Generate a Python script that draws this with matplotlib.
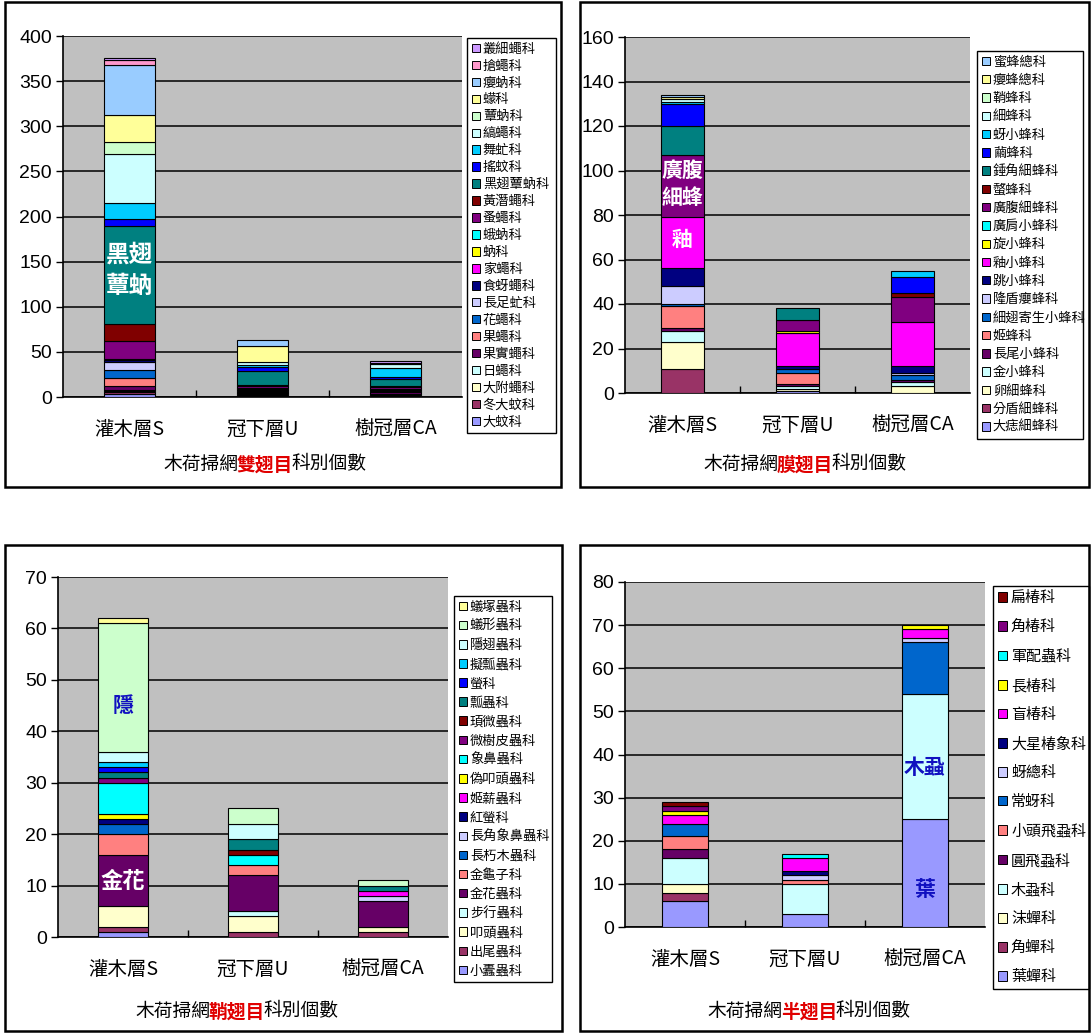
import matplotlib.pyplot as plt
import numpy as np
from matplotlib.patches import Patch, Rectangle

plt.rcParams['font.family'] = ['Noto Sans CJK TC', 'DejaVu Sans']

layers = ['灌木層S', '冠下層U', '樹冠層CA']

# Excel 2003 default series colours, first series at the bottom of the stack
excel_colors = ['#9999FF', '#993366', '#FFFFCC', '#CCFFFF', '#660066', '#FF8080',
                '#0066CC', '#CCCCFF', '#000080', '#FF00FF', '#FFFF00', '#00FFFF',
                '#800080', '#800000', '#008080', '#0000FF', '#00CCFF', '#CCFFFF',
                '#CCFFCC', '#FFFF99', '#99CCFF', '#FF99CC', '#CC99FF', '#FFCC99']

# --- 雙翅目 (bottom -> top)
diptera_families = ['大蚊科', '冬大蚊科', '大附蠅科', '日蠅科', '果實蠅科', '果蠅科',
                    '花蠅科', '長足虻科', '食蚜蠅科', '家蠅科', '蚋科', '蛾蚋科',
                    '蚤蠅科', '黃潛蠅科', '黑翅蕈蚋科', '搖蚊科', '舞虻科', '縞蠅科',
                    '蕈蚋科', '蠓科', '癭蚋科', '搶蠅科', '叢細蠅科']
diptera_S = [3, 3, 1, 1, 4, 9, 9, 9, 2, 1, 0, 0, 20, 19, 109, 7, 18, 54, 14, 30, 55, 5, 3]
diptera_U = [1, 1, 1, 1, 2, 0, 1, 1, 1, 1, 0, 0, 2, 1, 16, 4, 3, 3, 0, 18, 6, 0, 0]
diptera_CA = [0, 1, 1, 1, 3, 0, 1, 1, 1, 0, 0, 0, 2, 1, 8, 2, 10, 5, 0, 0, 0, 1, 2]

# --- 膜翅目
hymeno_families = ['大痣細蜂科', '分盾細蜂科', '卵細蜂科', '金小蜂科', '長尾小蜂科', '姬蜂科',
                   '細翅寄生小蜂科', '隆盾癭蜂科', '跳小蜂科', '釉小蜂科', '旋小蜂科',
                   '廣肩小蜂科', '廣腹細蜂科', '螫蜂科', '錘角細蜂科', '繭蜂科', '蚜小蜂科',
                   '細蜂科', '鞘蜂科', '癭蜂總科', '蜜蜂總科']
hymeno_S = [0, 11, 12, 5, 1, 10, 1, 8, 8, 23, 0, 0, 28, 0, 13, 10, 1, 1, 0, 1, 1]
hymeno_U = [1, 0, 1, 1, 1, 5, 2, 0, 1, 15, 1, 0, 5, 0, 5, 0, 0, 0, 0, 0, 0]
hymeno_CA = [0, 0, 3, 2, 1, 0, 2, 1, 3, 20, 0, 0, 11, 2, 0, 7, 3, 0, 0, 0, 0]

# --- 鞘翅目
coleo_families = ['小蠹蟲科', '出尾蟲科', '叩頭蟲科', '步行蟲科', '金花蟲科', '金龜子科',
                  '長朽木蟲科', '長角象鼻蟲科', '紅螢科', '姬薪蟲科', '偽叩頭蟲科',
                  '象鼻蟲科', '微樹皮蟲科', '頊微蟲科', '瓢蟲科', '螢科', '擬瓢蟲科',
                  '隱翅蟲科', '蟻形蟲科', '蟻塚蟲科']
coleo_S = [1, 1, 4, 0, 10, 4, 2, 0, 1, 0, 1, 6, 1, 0, 1, 1, 1, 2, 25, 1]
coleo_U = [0, 1, 3, 1, 7, 2, 0, 0, 0, 0, 0, 2, 0, 1, 2, 0, 0, 3, 3, 0]
coleo_CA = [0, 1, 1, 0, 5, 0, 0, 1, 0, 1, 0, 0, 0, 0, 1, 0, 0, 0, 1, 0]

# --- 半翅目
hemi_families = ['葉蟬科', '角蟬科', '沫蟬科', '木蝨科', '圓飛蝨科', '小頭飛蝨科', '常蚜科',
                 '蚜總科', '大星椿象科', '盲椿科', '長椿科', '軍配蟲科', '角椿科', '扁椿科']
hemi_S = [6, 2, 2, 6, 2, 3, 3, 0, 0, 2, 1, 0, 1, 1]
hemi_U = [3, 0, 0, 7, 0, 1, 0, 1, 1, 3, 0, 1, 0, 0]
hemi_CA = [25, 0, 0, 29, 0, 0, 12, 1, 0, 2, 1, 0, 0, 0]

W, H = 1091, 1034
fig = plt.figure(figsize=(W / 100, H / 100), dpi=100)


def fx(x):
    return x / W


def fy(y):
    return 1 - y / H


def draw_panel(box, families, counts, ymax, ystep, order, title_xy, legend_box,
               legend_fs, legend_sp, frame):
    x0, y0, x1, y1 = box
    ax = fig.add_axes([fx(x0), fy(y1), (x1 - x0) / W, (y1 - y0) / H])
    ax.set_facecolor('#C0C0C0')
    x = np.arange(3)
    bottom = np.zeros(3)
    for i, fam in enumerate(families):
        vals = np.array([counts[0][i], counts[1][i], counts[2][i]], dtype=float)
        bars = ax.bar(x, vals, 0.38, bottom=bottom, color=excel_colors[i],
                      edgecolor='black', linewidth=0.8, zorder=3)
        for b, v in zip(bars, vals):
            if v == 0:
                b.set_visible(False)
        bottom += vals

    ax.set_xlim(-0.5, 2.5)
    ax.set_ylim(0, ymax)
    ax.set_yticks(np.arange(0, ymax + 1, ystep))
    ax.set_yticklabels([str(v) for v in np.arange(0, ymax + 1, ystep)],
                       family='Liberation Sans', fontsize=14)
    ax.yaxis.grid(True, color='black', linewidth=1.1)
    ax.set_axisbelow(True)
    ax.tick_params(axis='y', length=5, width=1, direction='out', pad=3)
    ax.set_xticks(x, layers, fontsize=14)
    ax.set_xticks([0.5, 1.5], minor=True)
    ax.tick_params(axis='x', which='major', length=0, pad=16)
    ax.tick_params(axis='x', which='minor', length=5, width=1, direction='in')
    for s in ['left', 'bottom']:
        ax.spines[s].set_color('black')
        ax.spines[s].set_linewidth(1.2)
    ax.spines['right'].set_visible(False)
    ax.spines['top'].set_visible(False)

    # axis title with the order name in red
    cx, cy = title_xy
    mid = fig.text(fx(cx), fy(cy), order, color='#E00000', fontsize=13.5,
                   fontweight='bold', ha='center', va='center')
    ax.annotate('木荷掃網', xy=(0, 0), xycoords=mid, ha='right', va='bottom',
                xytext=(1.5, 0), textcoords='offset points',
                fontsize=13.5, color='black', annotation_clip=False)
    ax.annotate('科別個數', xy=(1, 0), xycoords=mid, ha='left', va='bottom',
                xytext=(-1.5, 0), textcoords='offset points',
                fontsize=13.5, color='black', annotation_clip=False)

    handles = [Patch(facecolor=excel_colors[i], edgecolor='black', linewidth=0.7, label=f)
               for i, f in enumerate(families)][::-1]
    lx0, ly0, lx1 = legend_box
    leg = ax.legend(handles=handles, loc='upper left',
                    bbox_to_anchor=(fx(lx0), fy(ly0), (lx1 - lx0) / W, 0.001),
                    bbox_transform=fig.transFigure, mode='expand', fontsize=legend_fs,
                    frameon=True, fancybox=False, edgecolor='black', framealpha=1,
                    borderaxespad=0, handlelength=0.6, handleheight=0.6,
                    handletextpad=0.25, labelspacing=legend_sp, borderpad=0.35)
    leg.get_frame().set_linewidth(1.0)

    fr = frame
    fig.add_artist(Rectangle((fx(fr[0]), fy(fr[3])), (fr[2] - fr[0]) / W,
                             (fr[3] - fr[1]) / H, transform=fig.transFigure,
                             fill=False, edgecolor='black', linewidth=1.8))
    return ax


ax1 = draw_panel((63, 36, 462, 397), diptera_families, [diptera_S, diptera_U, diptera_CA],
                 400, 50, '雙翅目', (265, 465), (467, 39, 556), 9.5, 0.30, (5, 2, 561, 487))
ax1.text(0, 140, '黑翅\n蕈蚋', color='white', fontsize=17, fontweight='bold',
         ha='center', va='center', linespacing=1.4, zorder=5)

ax2 = draw_panel((625, 37, 970, 393), hymeno_families, [hymeno_S, hymeno_U, hymeno_CA],
                 160, 20, '膜翅目', (805, 465), (977, 52, 1083), 9.5, 0.40, (580, 2, 1089, 487))
ax2.text(0, 94, '廣腹\n細蜂', color='white', fontsize=15, fontweight='bold',
         ha='center', va='center', linespacing=1.4, zorder=5)
ax2.text(0, 69, '釉', color='white', fontsize=15, fontweight='bold',
         ha='center', va='center', zorder=5)

ax3 = draw_panel((58, 577, 448, 937), coleo_families, [coleo_S, coleo_U, coleo_CA],
                 70, 10, '鞘翅目', (237, 1012), (454, 597, 552), 9.5, 0.46, (5, 545, 562, 1031))
ax3.text(0, 45, '隱', color='#1010C0', fontsize=15, fontweight='bold',
         ha='center', va='center', zorder=5)
ax3.text(0, 10.7, '金花', color='white', fontsize=16, fontweight='bold',
         ha='center', va='center', zorder=5)

ax4 = draw_panel((625, 582, 985, 927), hemi_families, [hemi_S, hemi_U, hemi_CA],
                 80, 10, '半翅目', (809, 1012), (993, 587, 1089), 10.8, 0.99, (580, 545, 1089, 1031))
ax4.text(2, 37, '木蝨', color='#1010C0', fontsize=15, fontweight='bold',
         ha='center', va='center', zorder=5)
ax4.text(2, 8.6, '葉', color='#1010C0', fontsize=15, fontweight='bold',
         ha='center', va='center', zorder=5)

fig.savefig('out.png', dpi=100, facecolor='white')
